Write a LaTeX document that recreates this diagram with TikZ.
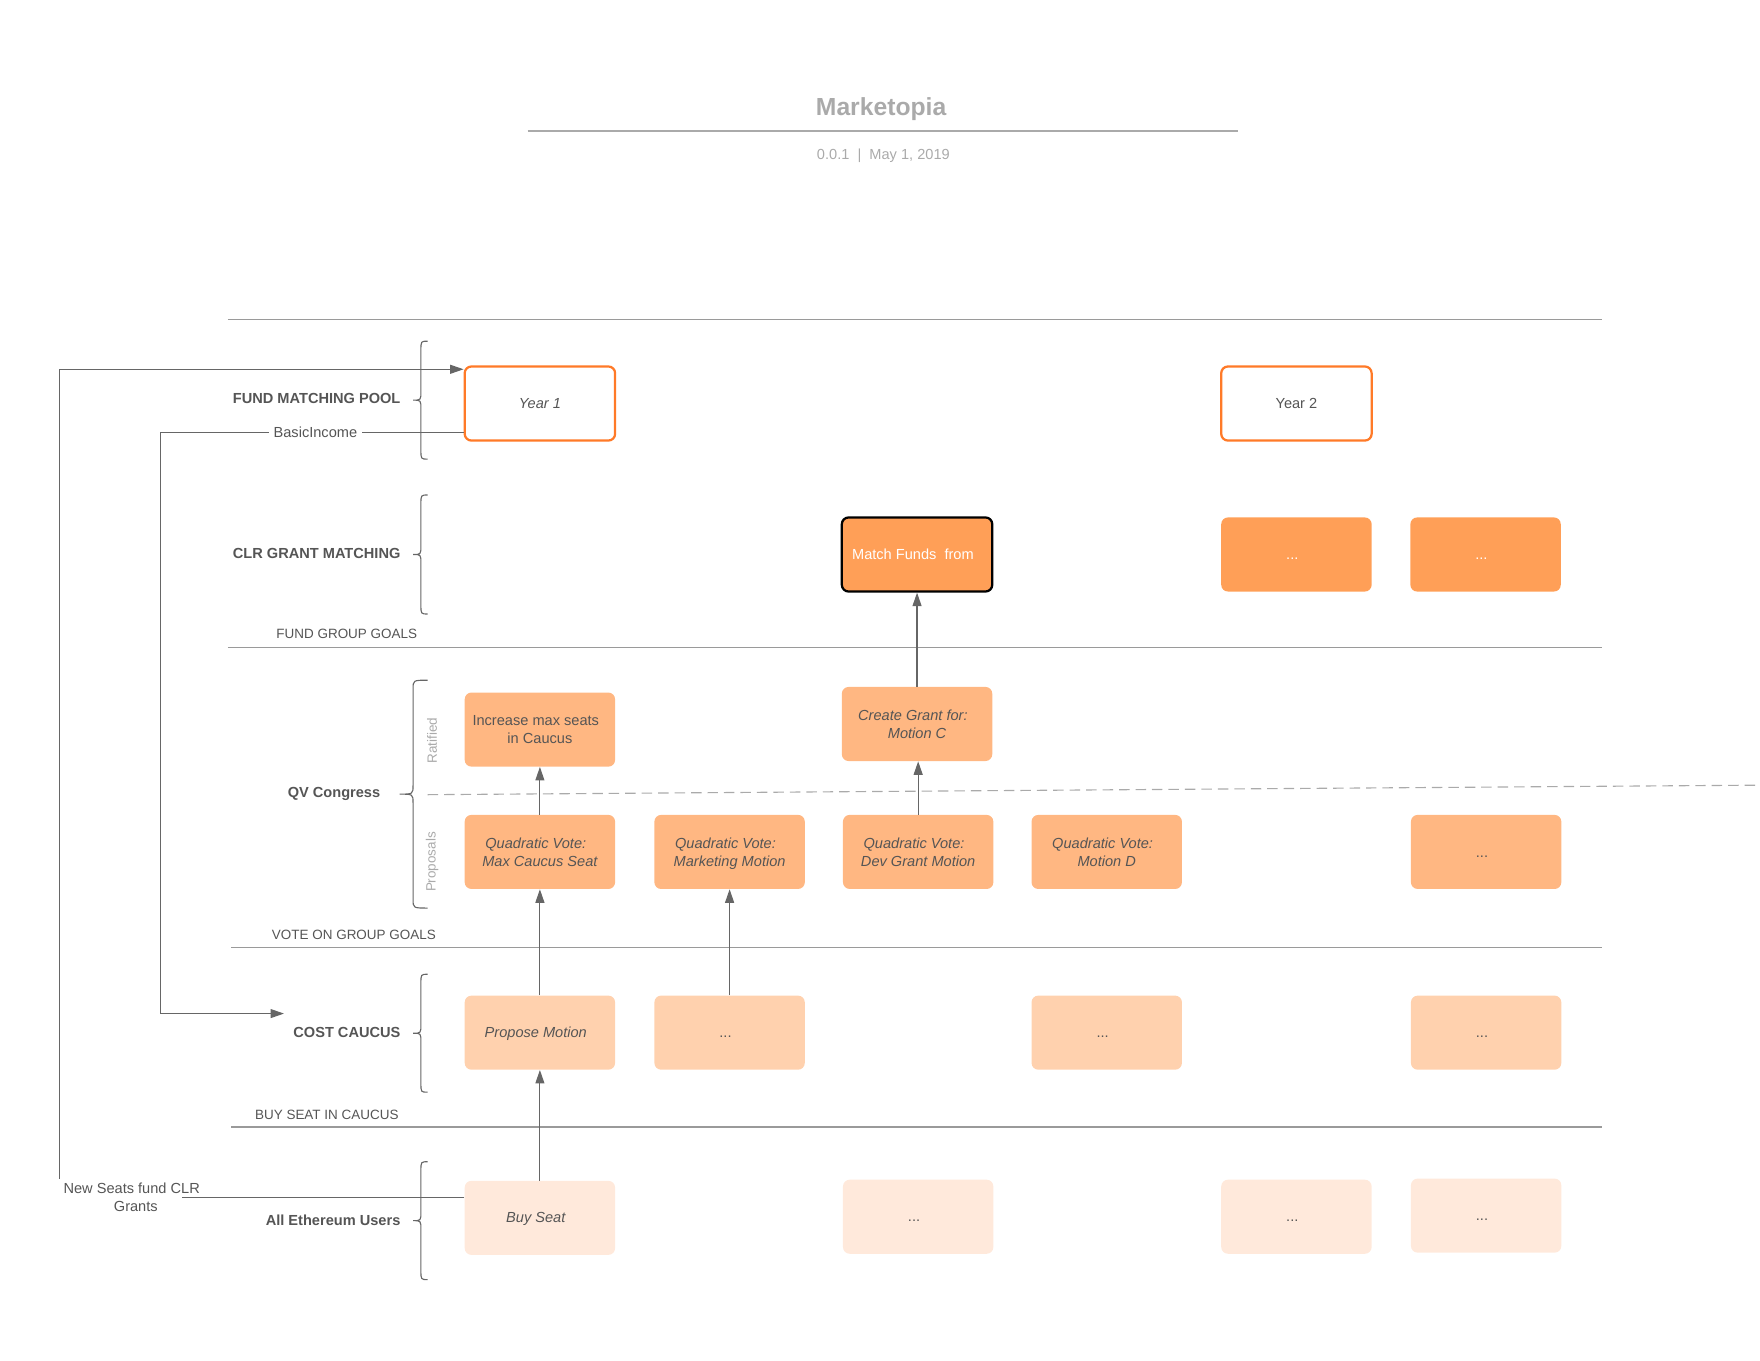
\documentclass[tikz,border=0pt]{standalone}
\usepackage{fontspec}
\setmainfont{Liberation Sans}
\usetikzlibrary{arrows.meta}
\definecolor{lineg}{HTML}{9A9A9A}
\definecolor{conn}{HTML}{666666}
\definecolor{txt}{HTML}{555555}
\definecolor{ttl}{HTML}{AAAAAA}
\definecolor{orbd}{HTML}{FF7A28}
\definecolor{fA}{HTML}{FF9F57}
\definecolor{fB}{HTML}{FFB782}
\definecolor{fC}{HTML}{FFD1AE}
\definecolor{fD}{HTML}{FFE9DB}
\newcommand{\mybrace}[5]{%
  \draw[brc] (#3,#4) .. controls (#1,#4) .. (#1,{#4+8}) -- (#1,{(#4+#5)/2-8})
    .. controls (#1,{(#4+#5)/2}) .. (#2,{(#4+#5)/2})
    .. controls (#1,{(#4+#5)/2}) .. (#1,{(#4+#5)/2+8}) -- (#1,{#5-8})
    .. controls (#1,#5) .. (#3,#5);}
\newcommand{\tsp}{\hspace*{5.5pt}}
\newcommand{\twol}[2]{\begin{tabular}{@{}c@{}}\rule{0pt}{10.4pt}#1\tsp\\#2\rule[-3.6pt]{0pt}{3.6pt}\end{tabular}}
\begin{document}
\begin{tikzpicture}[x=0.75pt,y=-0.75pt,
  box/.style={rounded corners=4.5pt, minimum width=100.5pt, minimum height=49.5pt,
    font=\fontsize{9.75}{12}\selectfont, text=txt, inner sep=0pt},
  one/.style={text height=8.4pt, text depth=1.6pt},
  yearbox/.style={box, one, draw=orbd, line width=1.5pt, fill=white},
  rowA/.style={box, one, fill=fA, text=white},
  rowB/.style={box, fill=fB},
  rowC/.style={box, one, fill=fC},
  rowD/.style={box, one, fill=fD},
  sep/.style={draw=lineg, line width=0.75pt},
  seplbl/.style={anchor=west, font=\fontsize{9}{11}\selectfont, text=txt, inner sep=0pt},
  lane/.style={anchor=east, font=\bfseries\fontsize{9.75}{11}\selectfont, text=txt, inner sep=0pt},
  brc/.style={draw=conn, line width=0.75pt},
  plain/.style={draw=conn, line width=0.75pt},
  arr/.style={draw=conn, line width=0.75pt, -{Triangle[length=9pt,width=6pt]}},
  lbl/.style={font=\fontsize{9.75}{12}\selectfont, text=txt, fill=white, inner xsep=3pt, inner ysep=1pt, align=center},
  sidelbl/.style={rotate=90, font=\fontsize{9}{11}\selectfont, text=ttl, inner sep=0pt}
]
\useasboundingbox (0,0) rectangle (1568,1212);

% title
\node[font=\bfseries\fontsize{16.5}{20}\selectfont, text=ttl] (title) at (785,97) {Marketopia};
\draw[draw=ttl, line width=1.5pt] (470,117) -- (1103,117);
\node[font=\fontsize{9.75}{12}\selectfont, text=ttl] (subtitle) at (787,139) {0.0.1~~|~~May 1, 2019};

% separators
\draw[sep] (203,285) -- (1427,285);
\draw[sep] (203,577) -- (1427,577);
\draw[sep] (206,844) -- (1427,844);
\draw[sep] (206,1004) -- (1427,1004);
\node[seplbl] (sl1) at (246,565) {FUND GROUP GOALS};
\node[seplbl] (sl2) at (242,833) {VOTE ON GROUP GOALS};
\node[seplbl] (sl3) at (227,993) {BUY SEAT IN CAUCUS};

% dashed divider
\draw[draw=ttl, line width=0.75pt, dash pattern=on 7pt off 4pt] (381,708) -- (1568,699.5);

% lane labels
\node[lane] (l1) at (357,355) {FUND MATCHING POOL};
\node[lane] (l2) at (357,493) {CLR GRANT MATCHING};
\node[lane] (l3) at (339,707) {QV Congress};
\node[lane] (l4) at (357,920) {COST CAUCUS};
\node[lane] (l5) at (357,1087) {All Ethereum Users};

% braces
\mybrace{375}{368}{381}{304}{409}
\mybrace{375}{368}{381}{441}{547}
\mybrace{368}{356}{381}{606}{809}
\mybrace{375}{368}{381}{868}{973}
\mybrace{375}{368}{381}{1035}{1140}

\node[sidelbl] (rat) at (385,660) {Ratified};
\node[sidelbl] (prop) at (385,768) {Proposals};

% boxes
\node[yearbox] (year1) at (481,359.5) {\itshape Year 1};
\node[yearbox] (year2) at (1155,359.5) {Year 2};

\node[rowA, draw=black, line width=1.5pt] (match) at (817,494) {Match Funds~~from\tsp};
\node[rowA] (a2) at (1155,494) {...\tsp};
\node[rowA] (a3) at (1323.5,494) {...\tsp};

\node[rowB] (incr) at (481,650) {\twol{Increase max seats}{in Caucus}};
\node[rowB] (create) at (817,645) {\twol{\itshape Create Grant for:}{\itshape Motion C}};

\node[rowB] (qv1) at (481,759) {\twol{\itshape Quadratic Vote:}{\itshape Max Caucus Seat}};
\node[rowB] (qv2) at (650,759) {\twol{\itshape Quadratic Vote:}{\itshape Marketing Motion}};
\node[rowB] (qv3) at (818,759) {\twol{\itshape Quadratic Vote:}{\itshape Dev Grant Motion}};
\node[rowB] (qv4) at (986,759) {\twol{\itshape Quadratic Vote:}{\itshape Motion D}};
\node[rowB, one] (qv5) at (1324,759) {...\tsp};

\node[rowC] (propose) at (481,920) {\itshape Propose Motion\tsp};
\node[rowC] (c2) at (650,920) {...\tsp};
\node[rowC] (c3) at (986,920) {...\tsp};
\node[rowC] (c4) at (1324,920) {...\tsp};

\node[rowD] (buy) at (481,1085) {\itshape Buy Seat\tsp};
\node[rowD] (d2) at (818,1084) {...\tsp};
\node[rowD] (d3) at (1155,1084) {...\tsp};
\node[rowD] (d4) at (1324,1083) {...\tsp};

% vertical connectors
\draw[arr] (create.north) -- (create.north |- match.south);
\draw[arr] (qv3.north) -- (qv3.north |- create.south);
\draw[arr] (qv1.north) -- (incr.south);
\draw[arr] (propose.north) -- (qv1.south);
\draw[arr] (c2.north) -- (qv2.south);
\draw[arr] (buy.north) -- (propose.south);

% left connectors
\coordinate (biCorner) at (143,903);
\coordinate (biEnd) at (253,903);
\draw[arr] (year1.west |- 0,385) -| (biCorner) -- (biEnd);
\node[lbl] (bilbl) at (281,385) {BasicIncome};

\coordinate (nsR) at (162,1067);
\coordinate (nsT) at (53,1050);
\draw[plain] (buy.west |- nsR) -- (nsR);
\draw[arr] (nsT) |- (year1.west |- 0,329);
\node[font=\fontsize{9.75}{12}\selectfont, text=txt, inner sep=0pt] (nslbl) at (121,1067) {\twol{New Seats fund CLR}{Grants}};
\end{tikzpicture}
\end{document}
